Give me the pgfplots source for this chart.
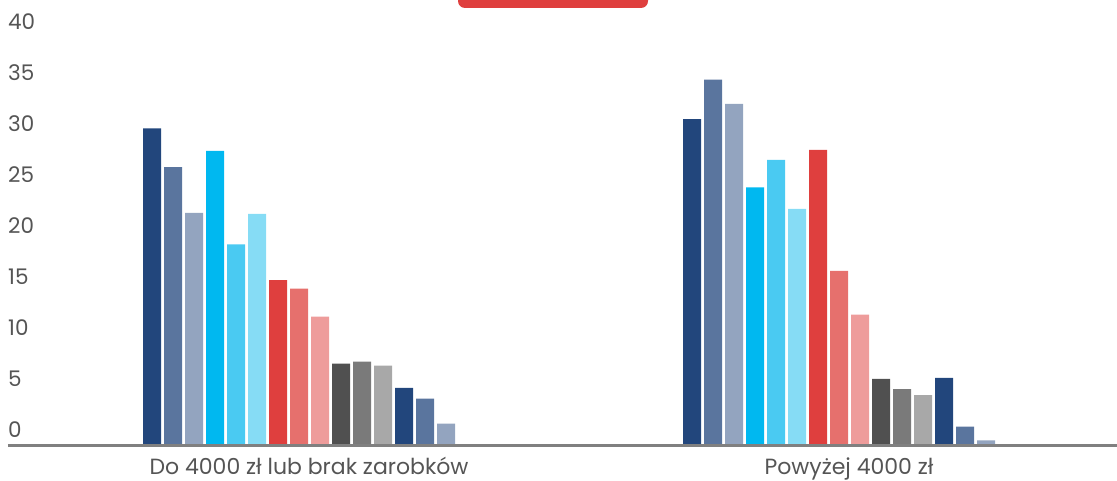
\documentclass[border=0pt]{standalone}
\usepackage{pgfplots}
\pgfplotsset{compat=1.18}
\usepackage{fontspec}
\setmainfont{Poppins}
\definecolor{cA}{HTML}{22467C}
\definecolor{cB}{HTML}{5A759E}
\definecolor{cC}{HTML}{93A4BF}
\definecolor{cD}{HTML}{00B8F0}
\definecolor{cE}{HTML}{4ACAF2}
\definecolor{cF}{HTML}{86DCF5}
\definecolor{cG}{HTML}{DF3F3E}
\definecolor{cH}{HTML}{E6706D}
\definecolor{cI}{HTML}{EE9C9B}
\definecolor{cJ}{HTML}{505050}
\definecolor{cK}{HTML}{7A7A7A}
\definecolor{cL}{HTML}{A8A8A8}
\definecolor{txt}{HTML}{555555}
\definecolor{axl}{HTML}{808080}
\begin{document}
\begin{tikzpicture}
\useasboundingbox (0,0) rectangle (1117pt,480pt);
\fill[cG, rounded corners=7pt] (458pt,472pt) rectangle (648pt,500pt);
\begin{axis}[
  at={(8pt,35pt)}, anchor=south west,
  scale only axis, width=1109pt, height=407.2pt,
  xmin=-0.5389, xmax=1.5148, ymin=0, ymax=40,
  ybar=3pt, bar width=18pt,
  axis on top,
  axis x line*=bottom, axis y line*=left,
  x axis line style={-, draw=axl, line width=3pt},
  y axis line style={draw=none},
  major tick length=0pt,
  xtick={0,1},
  xticklabels={Do 4000 zł lub brak zarobków, Powyżej 4000 zł},
  ytick={0,5,...,40},
  /pgf/number format/assume math mode=true,
  tick label style={font=\fontsize{21.5}{25}\selectfont, text=txt},
  xticklabel style={font=\fontsize{22}{25}\selectfont, anchor=base, inner ysep=0pt, yshift=-29pt, xshift=10pt},
  yticklabel style={anchor=base west, inner xsep=0pt, xshift=0pt, yshift=8pt},
  every axis plot/.append style={draw=none},
]
\addplot[fill=cA] coordinates {(0,31.1) (1,32.0)};
\addplot[fill=cB] coordinates {(0,27.3) (1,35.9)};
\addplot[fill=cC] coordinates {(0,22.8) (1,33.5)};
\addplot[fill=cD] coordinates {(0,28.9) (1,25.3)};
\addplot[fill=cE] coordinates {(0,19.7) (1,28.0)};
\addplot[fill=cF] coordinates {(0,22.7) (1,23.2)};
\addplot[fill=cG] coordinates {(0,16.2) (1,29.0)};
\addplot[fill=cH] coordinates {(0,15.35) (1,17.1)};
\addplot[fill=cI] coordinates {(0,12.6) (1,12.8)};
\addplot[fill=cJ] coordinates {(0,8.0) (1,6.5)};
\addplot[fill=cK] coordinates {(0,8.2) (1,5.5)};
\addplot[fill=cL] coordinates {(0,7.8) (1,4.9)};
\addplot[fill=cA] coordinates {(0,5.6) (1,6.6)};
\addplot[fill=cB] coordinates {(0,4.55) (1,1.8)};
\addplot[fill=cC] coordinates {(0,2.1) (1,0.45)};
\end{axis}
\end{tikzpicture}
\end{document}
